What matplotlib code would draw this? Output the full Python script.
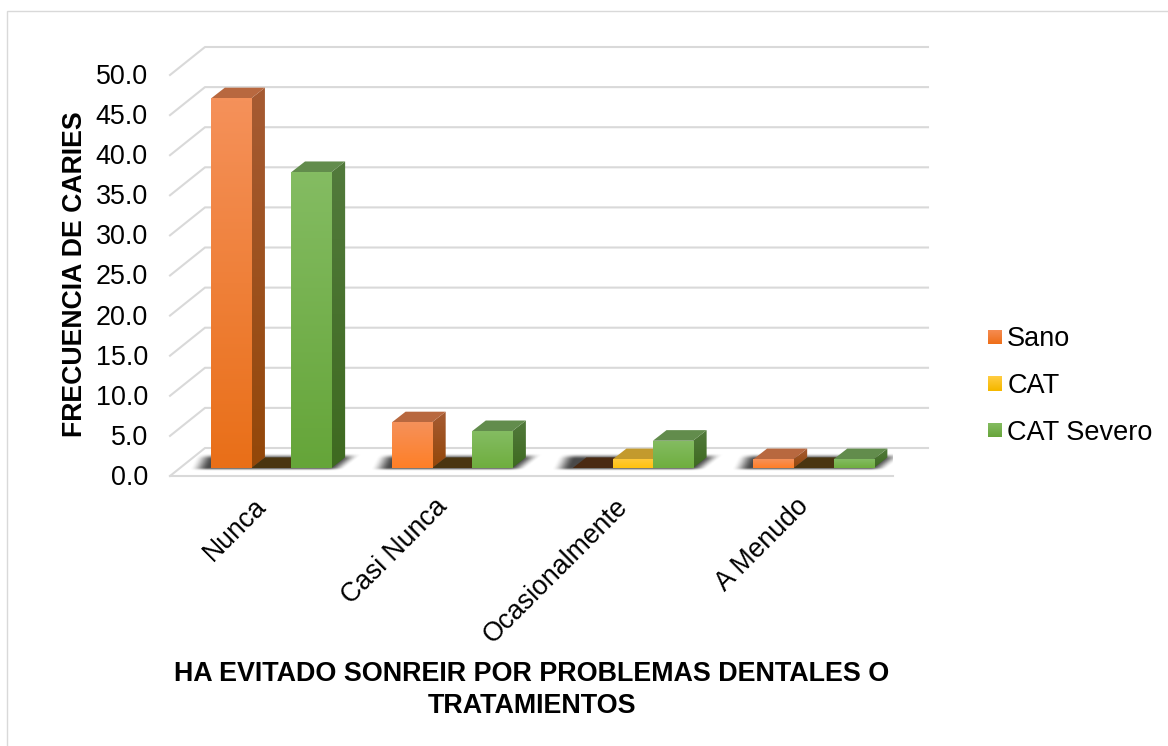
import numpy as np
import matplotlib
matplotlib.use("Agg")
import matplotlib.pyplot as plt
from matplotlib.colors import to_rgb
from matplotlib.legend_handler import HandlerBase
from matplotlib.patches import Polygon, Rectangle
from matplotlib.transforms import ScaledTranslation

categories = ["Nunca", "Casi Nunca", "Ocasionalmente", "A Menudo"]
series_names = ["Sano", "CAT", "CAT Severo"]
sano = [46.1, 5.7, 0.0, 1.1]
cat = [0.0, 0.0, 1.1, 0.0]
cat_severo = [36.9, 4.6, 3.4, 1.1]
y_ticks = [0, 5, 10, 15, 20, 25, 30, 35, 40, 45, 50]
x_title = "HA EVITADO SONREIR POR PROBLEMAS DENTALES O\nTRATAMIENTOS"
y_title = "FRECUENCIA DE CARIES"

W, H = 1168, 746
plt.rcParams["font.family"] = ["Liberation Sans", "DejaVu Sans"]
fig = plt.figure(figsize=(W / 100, H / 100), dpi=100, facecolor="white")
fig.add_artist(Rectangle((7 / W, -0.01), 1.1, 1 - 11 / H + 0.01, transform=fig.transFigure,
                         fc="none", ec="#D9D9D9", lw=1.0))
L, R, T, B = 170, 893, 75, 476
ax = fig.add_axes([L / W, 1 - B / H, (R - L) / W, (B - T) / H])
ax.set_facecolor("none")
for s in ax.spines.values():
    s.set_visible(False)

XMIN, XMAX, YMIN, YMAX = -0.5, 3.5, 0, 50
px_x = (XMAX - XMIN) / (R - L)
px_y = (YMAX - YMIN) / (B - T)
DX, DY = 35 * px_x, 28 * px_y          # depth of the 3D box
FX, FY = 11 * px_x, 8 * px_y           # front plane of the bars
BX, BY = 13.6 * px_x, 10.6 * px_y      # depth of a bar
BAR_W = 40.1 * px_x

GRID = "#D9D9D9"
for v in y_ticks:
    ax.plot([XMIN, XMIN + DX, XMAX + DX], [v, v + DY, v + DY], color=GRID, lw=1.5,
            clip_on=False, zorder=1, solid_joinstyle="miter")
ax.plot([XMIN, XMAX], [0, 0], color=GRID, lw=1.5, clip_on=False, zorder=1)


def grad(x0, x1, y0, y1, top, bottom, clip=None, z=3):
    t = np.linspace(0, 1, 64)[:, None, None]
    a, b = np.array(to_rgb(top)), np.array(to_rgb(bottom))
    img = a * (1 - t) + b * t
    im = ax.imshow(img, extent=(x0, x1, y0, y1), origin="upper", aspect="auto",
                   zorder=z, interpolation="bilinear")
    if clip is not None:
        im.set_clip_path(Polygon(clip, closed=True, transform=ax.transData))
    else:
        im.set_clip_path(Rectangle((x0, y0), x1 - x0, y1 - y0, transform=ax.transData))
    return im


STYLE = {
    "Sano": dict(light="#F5915A", mid="#FF7F27", low="#E96F18", side_t="#A65B33", side_b="#934709",
                 top="#B8683F", flat="#4A2A12"),
    "CAT": dict(light="#FFC93A", mid="#FFC20E", low="#F5B800", side_t="#A6801C", side_b="#9A7400",
                top="#C39A2D", flat="#4A3510"),
    "CAT Severo": dict(light="#84BC62", mid="#6FAE3F", low="#65A539", side_t="#527A3C", side_b="#3E6A20",
                       top="#628C4C", flat="#3A3A12"),
}


def bar3d(x, v, st, z):
    x0, x1 = x + FX, x + FX + BAR_W
    y0, y1 = FY, FY + v
    if v <= 0:
        ax.add_patch(Polygon([(x0, y0), (x1, y0), (x1 + BX, y0 + BY), (x0 + BX, y0 + BY)],
                             closed=True, fc=st["flat"], ec="none", zorder=2.5))
        return
    frac = min(1.0, v / 46.1)
    grad(x0, x1, y0, y1, st["light"], st["low"] if frac > 0.5 else st["mid"], z=z + 0.2)
    grad(x1, x1 + BX, y0, y1 + BY, st["side_t"], st["side_b"],
         clip=[(x1, y0), (x1 + BX, y0 + BY), (x1 + BX, y1 + BY), (x1, y1)], z=z + 0.1)
    ax.add_patch(Polygon([(x0, y1), (x1, y1), (x1 + BX, y1 + BY), (x0 + BX, y1 + BY)],
                         closed=True, fc=st["top"], ec="none", zorder=z + 0.1))


def shadow(x_left, x_right):
    """Soft skewed shadow under a cluster of bars, from its data extents."""
    x0, x1 = x_left - 28 * px_x, x_right + 42 * px_x
    y0, y1 = FY - 3.5 * px_y, FY + 14 * px_y
    nx, ny = 300, 60
    xs = np.linspace(x0, x1, nx)[None, :]
    ys = np.linspace(y0, y1, ny)[:, None]
    skew = (ys - FY) * (BX / BY)
    sm = lambda s: (lambda c: c * c * (3 - 2 * c))(np.clip(s, 0, 1))
    sl = sm((xs - 0.4 * skew - (x_left - 21 * px_x)) / (19 * px_x))
    sr = sm(((x_right + 15 * px_x) - (xs - skew)) / (17 * px_x))
    sb = sm((ys - y0) / (3.5 * px_y))
    st = sm((y1 - ys) / (6 * px_y))
    alpha = sl * sr * sb * st * 0.85
    img = np.zeros((ny, nx, 4))
    img[..., :3] = 0.16
    img[..., 3] = alpha
    ax.imshow(img, extent=(x0, x1, y0, y1), origin="lower", aspect="auto", zorder=2,
              interpolation="bilinear")


all_values = [sano, cat, cat_severo]
for i in range(len(categories)):
    xs = [i - 1.5 * BAR_W + j * BAR_W for j in range(3)]
    shadow(xs[0] + FX, xs[2] + FX + BAR_W)
    for j, name in enumerate(series_names):
        bar3d(xs[j], all_values[j][i], STYLE[name], z=3 + j * 0.5)

ax.set_xlim(XMIN, XMAX)
ax.set_ylim(YMIN, YMAX)
ax.set_yticks(y_ticks)
ax.set_yticklabels([f"{v:.1f}" for v in y_ticks], fontsize=19.4, color="black")
ax.tick_params(axis="y", length=0, pad=16)
for t in ax.get_yticklabels():
    t.set_transform(t.get_transform() + ScaledTranslation(0, 1 / 100, fig.dpi_scale_trans))
ax.set_xticks(range(len(categories)))
ax.set_xticklabels(categories, fontsize=19.2, rotation=45, ha="right", rotation_mode="anchor",
                   color="black")
ax.tick_params(axis="x", length=0, pad=14)
for t in ax.get_xticklabels():
    t.set_transform(t.get_transform() + ScaledTranslation(-7 / 100, 2 / 100, fig.dpi_scale_trans))

ax.set_xlabel(x_title, fontsize=19.4, fontweight="bold", color="black", linespacing=1.27)
ax.xaxis.set_label_coords((532 - L) / (R - L), (B - 690) / (B - T), transform=ax.transAxes)
ax.xaxis.label.set_verticalalignment("center")
ax.set_ylabel(y_title, fontsize=19.2, fontweight="bold", color="black")
ax.yaxis.set_label_coords((75 - L) / (R - L), (B - 274.5) / (B - T), transform=ax.transAxes)
ax.yaxis.label.set_verticalalignment("center")


class GradHandler(HandlerBase):
    def __init__(self, top, bottom):
        super().__init__()
        self.top, self.bottom = np.array(to_rgb(top)), np.array(to_rgb(bottom))

    def create_artists(self, legend, orig, xd, yd, width, height, fontsize, trans):
        out = []
        n = 14
        size = 14 * 0.72
        y0 = -yd + (height - size) / 2
        for k in range(n):
            t = k / (n - 1)
            c = self.top * (1 - t) + self.bottom * t
            out.append(Rectangle((-xd, y0 + size * (1 - (k + 1) / n)), size, size / n * 1.05,
                                 fc=c, ec="none", transform=trans))
        return out


handles = [Rectangle((0, 0), 1, 1) for _ in series_names]
hmap = {handles[0]: GradHandler("#F58A4F", "#EE6F1A"),
        handles[1]: GradHandler("#FFCC40", "#F5B800"),
        handles[2]: GradHandler("#83BB60", "#68A53B")}
leg = fig.legend(handles, series_names, handler_map=hmap, loc="center left",
                 bbox_to_anchor=(988 / W, 1 - 386 / H), fontsize=19.5, frameon=False,
                 labelspacing=0.76, handlelength=0.51, handletextpad=0.2,
                 borderpad=0, borderaxespad=0)
for t in leg.get_texts():
    t.set_color("black")

fig.savefig("out.png", dpi=100, facecolor="white")
